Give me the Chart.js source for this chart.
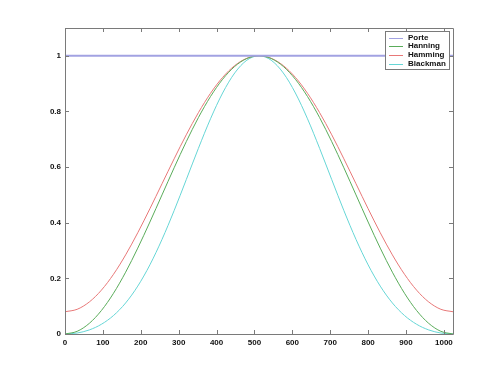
<!DOCTYPE html>
<html>
<head>
<meta charset="utf-8">
<script src="https://cdn.jsdelivr.net/npm/chart.js@4/dist/chart.umd.min.js"></script>
<style>
html,body{margin:0;padding:0;background:#fff;}
canvas{display:block;}
</style>
</head>
<body>
<canvas id="c" width="500" height="375"></canvas>
<script>
// Sample positions (n) along the window
const samples = [0,32,64,96,128,160,192,224,256,288,320,352,384,416,448,480,512,
  544,576,608,640,672,704,736,768,800,832,864,896,928,960,992,1024];
const porte = [1,1,1,1,1,1,1,1,1,1,1,1,1,1,1,1,1,1,1,1,1,1,1,1,1,1,1,1,1,1,1,1,1];
const hanning = [0,0.0096,0.0381,0.0843,0.1464,0.2222,0.3087,0.4025,0.5,0.5975,0.6913,0.7778,0.8536,0.9157,0.9619,0.9904,1,
  0.9904,0.9619,0.9157,0.8536,0.7778,0.6913,0.5975,0.5,0.4025,0.3087,0.2222,0.1464,0.0843,0.0381,0.0096,0];
const hamming = [0.08,0.0888,0.115,0.1575,0.2147,0.2844,0.364,0.4503,0.54,0.6297,0.716,0.7956,0.8653,0.9225,0.965,0.9912,1,
  0.9912,0.965,0.9225,0.8653,0.7956,0.716,0.6297,0.54,0.4503,0.364,0.2844,0.2147,0.1575,0.115,0.0888,0.08];
const blackman = [0,0.0035,0.0146,0.0349,0.0664,0.1116,0.1721,0.2485,0.34,0.4436,0.5548,0.6672,0.7736,0.8663,0.9385,0.9843,1,
  0.9843,0.9385,0.8663,0.7736,0.6672,0.5548,0.4436,0.34,0.2485,0.1721,0.1116,0.0664,0.0349,0.0146,0.0035,0];
const seriesNames = ['Porte','Hanning','Hamming','Blackman'];
const xTicks = [0,100,200,300,400,500,600,700,800,900,1000];
const yTicks = [0,0.2,0.4,0.6,0.8,1];

const colors = ['#a2a2e2','#5aac5a','#e87878','#66d6d6'];
const widths = [2,1,1,1];
const series = [porte, hanning, hamming, blackman];

const datasets = series.map((vals, i) => ({
  label: seriesNames[i],
  data: samples.map((x, j) => ({x: x, y: vals[j]})),
  borderColor: colors[i],
  backgroundColor: colors[i],
  borderWidth: widths[i],
  pointRadius: 0,
  fill: false,
  cubicInterpolationMode: 'monotone'
}));

const axisColor = '#7a7a7a';

const boxPlugin = {
  id: 'box',
  afterDraw(chart) {
    const ctx = chart.ctx;
    const a = chart.chartArea;
    const xs = chart.scales.x, ys = chart.scales.y;
    ctx.save();
    ctx.strokeStyle = axisColor;
    ctx.lineWidth = 1;
    ctx.beginPath();
    ctx.rect(Math.round(a.left) + 0.5, Math.round(a.top) + 0.5,
      Math.round(a.right - a.left), Math.round(a.bottom - a.top));
    ctx.stroke();
    const tl = 4;
    ctx.beginPath();
    xTicks.forEach(v => {
      const px = Math.round(xs.getPixelForValue(v)) + 0.5;
      ctx.moveTo(px, a.bottom); ctx.lineTo(px, a.bottom - tl);
      ctx.moveTo(px, a.top); ctx.lineTo(px, a.top + tl);
    });
    yTicks.forEach(v => {
      const py = Math.round(ys.getPixelForValue(v)) + 0.5;
      ctx.moveTo(a.left, py); ctx.lineTo(a.left + tl, py);
      ctx.moveTo(a.right, py); ctx.lineTo(a.right - tl, py);
    });
    ctx.stroke();

    // legend inside plot, top right
    const lx = 385, ly = 31, lw = 64, lh = 38;
    ctx.fillStyle = '#fff';
    ctx.fillRect(lx, ly, lw, lh);
    ctx.strokeStyle = axisColor;
    ctx.strokeRect(lx + 0.5, ly + 0.5, lw, lh);
    ctx.font = 'bold 8px "Liberation Sans", Arial, sans-serif';
    ctx.textBaseline = 'middle';
    ctx.textAlign = 'left';
    chart.data.datasets.forEach((ds, i) => {
      const y = ly + 6.5 + i * 8.7;
      ctx.strokeStyle = ds.borderColor;
      ctx.lineWidth = 1;
      ctx.beginPath();
      ctx.moveTo(lx + 4, Math.round(y) + 0.5);
      ctx.lineTo(lx + 18, Math.round(y) + 0.5);
      ctx.stroke();
      ctx.fillStyle = '#111';
      ctx.fillText(ds.label, lx + 23, y);
    });
    ctx.restore();
  }
};

new Chart(document.getElementById('c'), {
  type: 'line',
  data: { datasets: datasets },
  options: {
    responsive: false,
    animation: false,
    devicePixelRatio: 1,
    layout: { padding: { top: 28, right: 47, left: 0, bottom: 0 } },
    plugins: { legend: { display: false }, tooltip: { enabled: false } },
    scales: {
      x: {
        type: 'linear',
        min: 0, max: 1024,
        grid: { display: false, drawTicks: false },
        border: { display: false },
        afterFit(s) { s.height = 41; },
        afterBuildTicks(s) { s.ticks = xTicks.map(v => ({value: v})); },
        ticks: {
          padding: 4,
          maxRotation: 0,
          autoSkip: false,
          color: '#111',
          font: { family: '"Liberation Sans", Arial, sans-serif', size: 8, weight: 'bold' },
          callback: v => String(v)
        }
      },
      y: {
        type: 'linear',
        min: 0, max: 1.1,
        grid: { display: false, drawTicks: false },
        border: { display: false },
        afterFit(s) { s.width = 65; },
        afterBuildTicks(s) { s.ticks = yTicks.map(v => ({value: v})); },
        ticks: {
          padding: 4,
          color: '#111',
          font: { family: '"Liberation Sans", Arial, sans-serif', size: 8, weight: 'bold' },
          callback: v => String(+v.toFixed(1))
        }
      }
    }
  },
  plugins: [boxPlugin]
});
</script>
</body>
</html>
